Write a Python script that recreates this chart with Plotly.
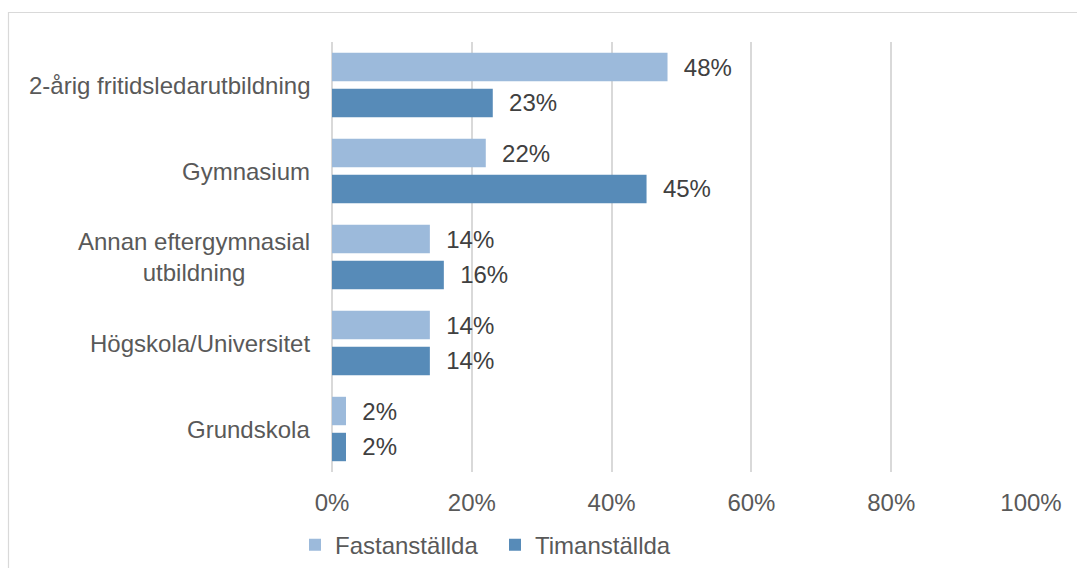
import plotly.graph_objects as go

categories = ["2-årig fritidsledarutbildning", "Gymnasium", "Annan eftergymnasial<br>utbildning",
              "Högskola/Universitet", "Grundskola"]
fastanstallda = [48, 22, 14, 14, 2]
timanstallda = [23, 45, 16, 14, 2]
series_names = ["Fastanställda", "Timanställda"]
tick_vals = [0, 20, 40, 60, 80, 100]
tick_text = [f"{v}%" for v in tick_vals]

FONT = "Liberation Sans, Arial, sans-serif"
LIGHT = "#9CBADB"
DARK = "#578BB8"
FS = 24

W, H = 1077, 568
ML, MR, MT, MB = 332, 46, 42, 96
pw, ph = W - ML - MR, H - MT - MB

fig = go.Figure()
for name, vals, col in [(series_names[0], fastanstallda, LIGHT), (series_names[1], timanstallda, DARK)]:
    fig.add_trace(go.Bar(
        y=categories, x=vals, name=name, orientation="h",
        marker=dict(color=col, line=dict(width=0)),
        text=[f"{v}%" for v in vals],
        texttemplate="\u00a0\u00a0%{text}", textposition="outside",
        textfont=dict(family=FONT, size=FS, color="#404040"),
        cliponaxis=False,
    ))

for c in categories:
    fig.add_annotation(x=0, xref="paper", y=c, yref="y", text=c, showarrow=False,
                       xanchor="right", xshift=-20, align="center",
                       font=dict(family=FONT, size=FS, color="#595959"))

# chart border (right and bottom edges lie outside the picture)
fig.add_shape(type="rect", xref="paper", yref="paper",
              x0=(8.5 - ML) / pw, x1=(W + 20 - ML) / pw,
              y0=(MT + ph - (H + 20)) / ph, y1=(MT + ph - 12.5) / ph,
              line=dict(color="#D9D9D9", width=1.2), fillcolor="rgba(0,0,0,0)", layer="below")

fig.update_layout(
    width=W, height=H,
    margin=dict(l=ML, r=MR, t=MT, b=MB, autoexpand=False),
    paper_bgcolor="white", plot_bgcolor="white",
    barmode="group", bargap=0.163, bargroupgap=0.21,
    font=dict(family=FONT, size=FS, color="#595959"),
    showlegend=True,
    legend=dict(orientation="h", x=(295 - ML) / pw, xanchor="left", y=-0.17, yanchor="middle",
                font=dict(family=FONT, size=FS, color="#595959"),
                entrywidth=155, entrywidthmode="pixels", bgcolor="rgba(0,0,0,0)"),
    xaxis=dict(range=[0, 100], tickvals=tick_vals, ticktext=tick_text, showgrid=True,
               gridcolor="#D9D9D9", gridwidth=1.5, zeroline=True, zerolinecolor="#D9D9D9",
               zerolinewidth=1.5, showline=False, ticks="", ticklabelstandoff=14,
               tickfont=dict(family=FONT, size=FS, color="#595959")),
    yaxis=dict(autorange="reversed", showticklabels=False, showgrid=False, zeroline=False,
               showline=False, ticks=""),
)

fig.write_html("out.html", config={"displayModeBar": False},
               post_script="document.body.style.margin='0';document.body.style.overflow='hidden';")
